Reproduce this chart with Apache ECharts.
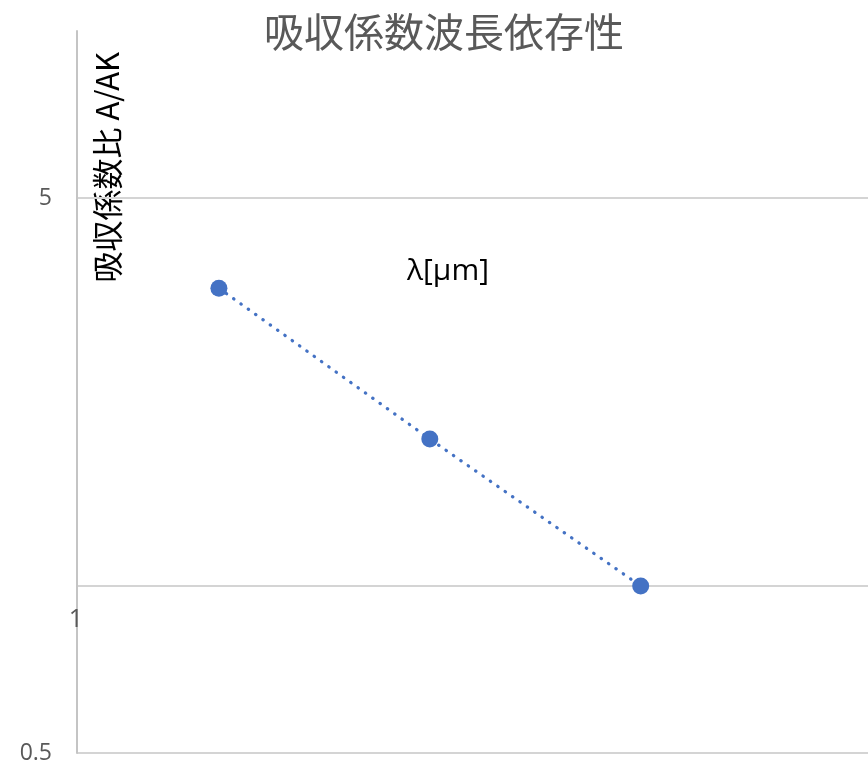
<!DOCTYPE html>
<html>
<head>
<meta charset="utf-8">
<script src="https://cdn.jsdelivr.net/npm/echarts@6/dist/echarts.min.js"></script>
<style>
  html, body { margin: 0; padding: 0; background: #ffffff; }
  #chart { width: 868px; height: 765px; }
</style>
</head>
<body>
<div id="chart"></div>
<script>
// Wavelength (μm) and absorption coefficient ratio A/AK
const wavelengths = [0.4, 0.5, 0.6];
const absorptionRatio = [3.44, 1.84, 1.0];
// Values on the logarithmic ratio axis that get a label and a grid line
const yTickValues = [0.5, 5];
const yGridValues = [0.5, 1, 5];
const yMidLabel = [1];

const chart = echarts.init(document.getElementById('chart'), null, { renderer: 'canvas' });

const labelFont = '"Open Sans", "Noto Sans", sans-serif';
const cjkFont = '"Noto Sans CJK JP", "Noto Sans", sans-serif';

const option = {
  backgroundColor: '#ffffff',
  animation: false,
  title: {
    text: '吸収係数波長依存性',
    left: 439,
    top: 7,
    textAlign: 'center',
    textStyle: {
      fontFamily: cjkFont,
      fontSize: 40,
      fontWeight: 'normal',
      color: '#595959'
    }
  },
  grid: {
    left: 77,
    top: 31,
    bottom: 12,
    right: 0,
    containLabel: false
  },
  xAxis: {
    type: 'value',
    min: 0.3327,
    max: 0.7078,
    axisLine: { show: false },
    axisTick: { show: false },
    axisLabel: { show: false },
    splitLine: { show: false }
  },
  yAxis: [
    {
      type: 'log',
      logBase: 10,
      min: 0.5,
      max: 10,
      axisLine: { show: true, lineStyle: { color: '#c4c4c4', width: 2 } },
      axisTick: { show: false, customValues: yGridValues },
      axisLabel: {
        customValues: yTickValues,
        margin: 25,
        fontFamily: labelFont,
        fontSize: 23,
        color: '#595959'
      },
      splitLine: { show: true, lineStyle: { color: '#d4d4d4', width: 2 } }
    },
    {
      type: 'log',
      logBase: 10,
      min: 0.5,
      max: 10,
      position: 'left',
      axisLine: { show: false },
      axisTick: { show: false },
      splitLine: { show: false },
      axisLabel: {
        customValues: yMidLabel,
        margin: -6,
        verticalAlign: 'top',
        lineHeight: 68,
        fontFamily: labelFont,
        fontSize: 25,
        color: '#595959'
      }
    }
  ],
  graphic: [
    {
      type: 'text',
      left: 92,
      top: 52,
      rotation: Math.PI / 2,
      style: {
        text: '吸収係数比 A/AK',
        fontFamily: cjkFont,
        fontSize: 31,
        fill: '#000000'
      }
    },
    {
      type: 'text',
      left: 407,
      top: 256,
      style: {
        text: 'λ[μm]',
        fontFamily: labelFont,
        fontSize: 30,
        fill: '#000000'
      }
    }
  ],
  series: [
    {
      type: 'line',
      xAxisIndex: 0,
      yAxisIndex: 0,
      data: wavelengths.map((w, i) => [w, absorptionRatio[i]]),
      symbol: 'circle',
      symbolSize: 17,
      itemStyle: { color: '#4472C4' },
      lineStyle: {
        color: '#4472C4',
        width: 3.2,
        type: [0.5, 8.5],
        cap: 'round'
      }
    }
  ]
};

chart.setOption(option);
</script>
</body>
</html>
